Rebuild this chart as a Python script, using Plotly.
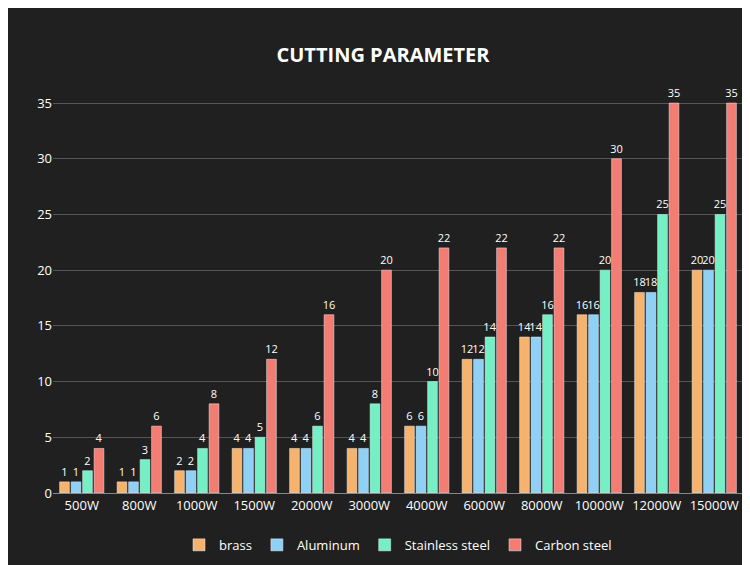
import plotly.graph_objects as go

powers = ["500W", "800W", "1000W", "1500W", "2000W", "3000W", "4000W",
          "6000W", "8000W", "10000W", "12000W", "15000W"]
brass = [1, 1, 2, 4, 4, 4, 6, 12, 14, 16, 18, 20]
aluminum = [1, 1, 2, 4, 4, 4, 6, 12, 14, 16, 18, 20]
stainless = [2, 3, 4, 5, 6, 8, 10, 14, 16, 20, 25, 25]
carbon = [4, 6, 8, 12, 16, 20, 22, 22, 22, 30, 35, 35]

series = [
    ("brass", brass, "#F6B36E"),
    ("Aluminum", aluminum, "#8FD0F5"),
    ("Stainless steel", stainless, "#74F0C4"),
    ("Carbon steel", carbon, "#F47D73"),
]

fig = go.Figure()
for name, vals, col in series:
    fig.add_trace(go.Bar(
        x=powers, y=vals, name=name, marker_color=col,
        text=vals, textposition="outside", cliponaxis=False,
        constraintext="none",
        textfont=dict(color="white", size=11),
    ))

fig.update_layout(
    width=750, height=565,
    title=dict(text="<b>CUTTING PARAMETER</b>", x=0.5, y=0.93,
               font=dict(size=20, color="white", family="Open Sans")),
    paper_bgcolor="#202020", plot_bgcolor="#202020",
    font=dict(family="Open Sans", color="white", size=13),
    barmode="group", bargap=0.2, bargroupgap=0.15,
    margin=dict(l=45, r=15, t=75, b=80),
    legend=dict(orientation="h", x=0.5, xanchor="center", y=-0.09,
                font=dict(size=13, color="white"), itemwidth=30),
    showlegend=True,
)
fig.update_xaxes(showgrid=False, showline=True, linecolor="#888", ticks="")
fig.update_yaxes(range=[0, 36.8], tickvals=[0, 5, 10, 15, 20, 25, 30, 35],
                 gridcolor="#555", gridwidth=1, zeroline=False)

fig.write_html("out.html")
